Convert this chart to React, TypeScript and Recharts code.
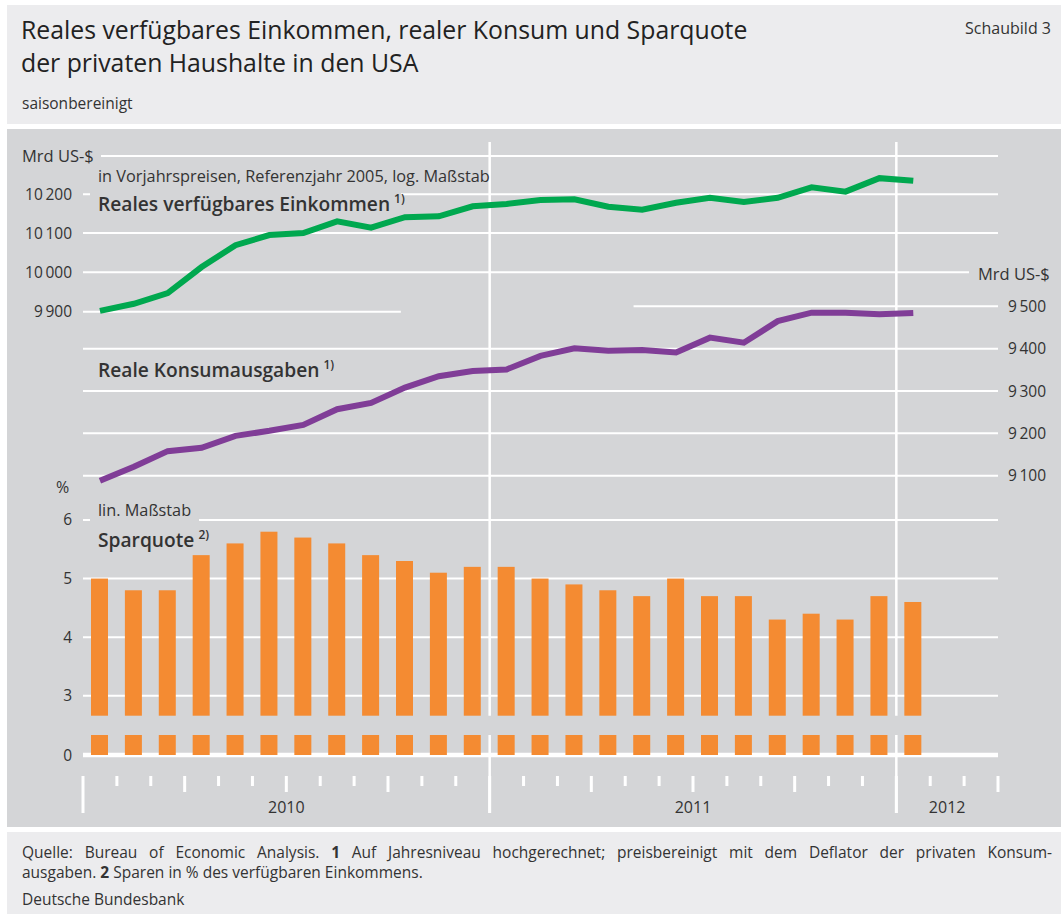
import React from 'react';
import { ComposedChart, Bar, Line, XAxis, YAxis, ReferenceLine } from 'recharts';

// Monatswerte Jan 2010 bis Jan 2012, Achse läuft bis Mär 2012
const months = [
  'Jan 2010', 'Feb 2010', 'Mär 2010', 'Apr 2010', 'Mai 2010', 'Jun 2010',
  'Jul 2010', 'Aug 2010', 'Sep 2010', 'Okt 2010', 'Nov 2010', 'Dez 2010',
  'Jan 2011', 'Feb 2011', 'Mär 2011', 'Apr 2011', 'Mai 2011', 'Jun 2011',
  'Jul 2011', 'Aug 2011', 'Sep 2011', 'Okt 2011', 'Nov 2011', 'Dez 2011',
  'Jan 2012', 'Feb 2012', 'Mär 2012',
];

// Reales verfügbares Einkommen, Mrd US-$
const income = [
  9902, 9920, 9947, 10013, 10069, 10095, 10100, 10130, 10114, 10141, 10143, 10169,
  10175, 10185, 10187, 10168, 10160, 10178, 10191, 10180, 10191, 10218, 10207, 10242,
  10235,
];

// Reale Konsumausgaben, Mrd US-$
const consumption = [
  9088, 9121, 9158, 9166, 9194, 9206, 9220, 9257, 9272, 9308, 9335, 9347,
  9351, 9383, 9401, 9395, 9397, 9391, 9426, 9414, 9465, 9485, 9485, 9481,
  9484,
];

// Sparquote in %
const savingRate = [
  5.0, 4.8, 4.8, 5.4, 5.6, 5.8, 5.7, 5.6, 5.4, 5.3, 5.1, 5.2,
  5.2, 5.0, 4.9, 4.8, 4.7, 5.0, 4.7, 4.7, 4.3, 4.4, 4.3, 4.7,
  4.6,
];

const incomeTicks = [9900, 10000, 10100, 10200, 10300];
const consumptionTicks = [9100, 9200, 9300, 9400, 9500];
const savingTicks = [0, 3, 4, 5, 6];

const data = months.map((month, i) => ({
  month,
  inc: income[i] ?? null,
  kon: consumption[i] ?? null,
  sav: savingRate[i] ?? null,
}));

// layout
const W = 1061;
const H = 914;
const PLOT_L = 83;
const PLOT_R = 998;
const PLOT_T = 142;
const PLOT_B = 755;
const XAXIS_H = 60;
const BAND = (PLOT_R - PLOT_L) / months.length;

const INC_DOMAIN = [8844.6, 10336.6];
const KON_DOMAIN = [8440.5, 9888];
const SAV_BASE = 1.9875; // hier sitzt die "0" der unterbrochenen Achse
const SAV_DOMAIN = [SAV_BASE, 12.454];
const BREAK_FROM = 2.329;
const BREAK_TO = 2.6585;

const GREEN = '#00a84f';
const PURPLE = '#803d97';
const ORANGE = '#f48b32';
const PANEL = '#d4d5d7';
const LIGHT = '#ececee';
const TEXT = '#333';
const WHITE = '#fff';

const SANS = "'Open Sans', 'Noto Sans', sans-serif";

const TICK_GAP = 21;
const TICK_MONTH = 10;
const TICK_QUARTER = 16;
const TICK_YEAR = 37;
const TICK_FONT = 15.5;

const fmt = (v: number) => (v >= 1000 ? String(v).replace(/(\d)(\d{3})$/, '$1\u2009$2') : String(v));
const savPos = (v: number) => (v === 0 ? SAV_BASE : v);

const partial = (from: number, to: number) => (p: any) => {
  const a = Math.min(p.x1, p.x2);
  const w = Math.abs(p.x2 - p.x1);
  return <line x1={a + w * from} x2={a + w * to} y1={p.y1} y2={p.y2} stroke={WHITE} strokeWidth={2} />;
};

const extendDown = (px: number) => (p: any) => (
  <line x1={p.x1} x2={p.x2} y1={Math.min(p.y1, p.y2)} y2={Math.max(p.y1, p.y2) + px} stroke={WHITE} strokeWidth={2.5} />
);

const BrokenBar = (p: any) => {
  const { x, y, width, height, fill, payload } = p;
  if (!height || payload?.sav == null) return null;
  const ppu = height / (payload.sav - SAV_BASE);
  const base = y + height;
  const lowTop = base - (BREAK_FROM - SAV_BASE) * ppu;
  const highBottom = base - (BREAK_TO - SAV_BASE) * ppu;
  return (
    <g>
      <rect x={x} y={lowTop} width={width} height={base - lowTop} fill={fill} />
      <rect x={x} y={y} width={width} height={Math.max(0, highBottom - y)} fill={fill} />
    </g>
  );
};

const MonthTick = (props: any) => {
  const { x, y, payload } = props;
  const i = months.indexOf(payload.value);
  if (i < 0) return null;
  const half = BAND / 2;
  const m = i % 12;
  const x0 = x - half;
  const len = (mm: number) => (mm === 0 ? TICK_YEAR : mm % 3 === 0 ? TICK_QUARTER : TICK_MONTH);
  const year = months[i].slice(-4);
  const first = months.findIndex((mo) => mo.endsWith(year));
  const count = months.filter((mo) => mo.endsWith(year)).length;
  return (
    <g>
      <line x1={x0} x2={x0} y1={y + TICK_GAP} y2={y + TICK_GAP + len(m)} stroke={WHITE} strokeWidth={3} />
      {i === months.length - 1 && (
        <line x1={x + half} x2={x + half} y1={y + TICK_GAP} y2={y + TICK_GAP + len((m + 1) % 12)} stroke={WHITE} strokeWidth={3} />
      )}
      {i === first && (
        <text x={x0 + count * half} y={y + 52} dy="0.36em" textAnchor="middle" fontSize={16} fill={TEXT}>
          {year}
        </text>
      )}
    </g>
  );
};

const Txt = ({ x, y, size = 16, weight = 400, bg, pl = 0, pr = 0, right, children }: any) => (
  <div
    style={{
      position: 'absolute',
      left: right ? undefined : x - pl,
      right: right ? W - x - pr : undefined,
      top: y - size,
      height: size * 2,
      lineHeight: `${size * 2}px`,
      fontSize: size,
      fontWeight: weight,
      fontFamily: SANS,
      color: TEXT,
      whiteSpace: 'nowrap',
      background: bg,
      paddingLeft: pl,
      paddingRight: pr,
    }}
  >
    {children}
  </div>
);

const Sup = ({ children }: any) => (
  <span style={{ fontSize: 12, position: 'relative', top: -8, marginLeft: 4 }}>{children}</span>
);

const yearStarts = months.filter((mo, i) => i > 0 && i % 12 === 0);

const tickLabel = (value: string, position: 'left' | 'right') => ({
  value,
  position,
  offset: position === 'left' ? 11 : 10,
  fill: TEXT,
  fontSize: TICK_FONT,
});

export default function App() {
  return (
    <div style={{ position: 'absolute', left: 0, top: 0, width: W, height: H, background: WHITE, overflow: 'hidden', fontFamily: SANS }}>
      <div style={{ position: 'absolute', left: 7, top: 5, width: W - 7, height: 119, background: LIGHT }} />
      <div style={{ position: 'absolute', left: 7, top: 129, width: W - 7, height: 698, background: PANEL }} />
      <div style={{ position: 'absolute', left: 7, top: 832, width: W - 7, height: H - 832, background: LIGHT }} />

      {/* Kopf */}
      <div style={{ position: 'absolute', left: 21, top: 13, fontSize: 24.8, lineHeight: '33px', color: '#222', whiteSpace: 'nowrap' }}>
        Reales verfügbares Einkommen, realer Konsum und Sparquote
        <br />
        der privaten Haushalte in den USA
      </div>
      <Txt x={1051} y={28} size={16} right>Schaubild 3</Txt>
      <Txt x={22} y={103} size={15.5}>saisonbereinigt</Txt>

      <div style={{ position: 'absolute', left: 0, top: 0 }}>
        <ComposedChart
          width={W}
          height={H}
          data={data}
          margin={{ top: PLOT_T, right: W - PLOT_R, bottom: H - PLOT_B - XAXIS_H, left: PLOT_L }}
        >
          <XAxis
            dataKey="month"
            height={XAXIS_H}
            axisLine={false}
            tickLine={false}
            tickSize={0}
            tickMargin={0}
            interval={0}
            tick={<MonthTick />}
          />
          <YAxis yAxisId="inc" hide type="number" scale="log" domain={INC_DOMAIN} allowDataOverflow />
          <YAxis yAxisId="kon" hide type="number" domain={KON_DOMAIN} allowDataOverflow />
          <YAxis yAxisId="sav" hide type="number" domain={SAV_DOMAIN} allowDataOverflow />

          {incomeTicks.map((v, k) => (
            <ReferenceLine
              key={'inc' + v}
              yAxisId="inc"
              y={v}
              stroke={WHITE}
              strokeWidth={2}
              ifOverflow="visible"
              zIndex={-50}
              shape={v === 9900 ? partial(0, 0.3474) : undefined}
              label={k === incomeTicks.length - 1 ? undefined : tickLabel(fmt(v), 'left')}
            />
          ))}
          {consumptionTicks.map((v, k) => (
            <ReferenceLine
              key={'kon' + v}
              yAxisId="kon"
              y={v}
              stroke={WHITE}
              strokeWidth={2}
              ifOverflow="visible"
              zIndex={-50}
              shape={k === consumptionTicks.length - 1 ? partial(0.6017, 1) : undefined}
              label={tickLabel(fmt(v), 'right')}
            />
          ))}
          {savingTicks.map((v) => (
            <ReferenceLine
              key={'sav' + v}
              yAxisId="sav"
              y={savPos(v)}
              stroke={WHITE}
              strokeWidth={v === 0 ? 4.5 : 2}
              ifOverflow="visible"
              zIndex={-50}
              label={tickLabel(String(v), 'left')}
            />
          ))}
          {yearStarts.map((mo) => (
            <ReferenceLine
              key={mo + 'a'}
              yAxisId="sav"
              segment={[{ x: mo, y: SAV_DOMAIN[1] }, { x: mo, y: BREAK_TO }]}
              position="start"
              stroke={WHITE}
              strokeWidth={2.5}
              ifOverflow="visible"
              zIndex={-50}
            />
          ))}
          {yearStarts.map((mo) => (
            <ReferenceLine
              key={mo + 'b'}
              yAxisId="sav"
              segment={[{ x: mo, y: BREAK_FROM }, { x: mo, y: SAV_BASE }]}
              position="start"
              stroke={WHITE}
              strokeWidth={2.5}
              ifOverflow="visible"
              zIndex={-50}
              shape={extendDown(TICK_GAP + TICK_YEAR)}
            />
          ))}

          <Bar yAxisId="sav" dataKey="sav" fill={ORANGE} barSize={17} shape={<BrokenBar />} isAnimationActive={false} />
          <Line yAxisId="inc" dataKey="inc" stroke={GREEN} strokeWidth={6} dot={false} activeDot={false} isAnimationActive={false} />
          <Line yAxisId="kon" dataKey="kon" stroke={PURPLE} strokeWidth={6} dot={false} activeDot={false} isAnimationActive={false} />
        </ComposedChart>
      </div>

      {/* Beschriftungen im Diagramm */}
      <Txt x={22} y={155} size={16.5} bg={PANEL} pr={7}>Mrd US-$</Txt>
      <Txt x={98} y={176} size={16.3}>in Vorjahrspreisen, Referenzjahr 2005, log. Maßstab</Txt>
      <div style={{ position: 'absolute', left: 89.5, top: 187, width: 311, height: 27, background: PANEL }} />
      <Txt x={98} y={204} size={19.2} weight={600}>
        Reales verfügbares Einkommen<Sup>1)</Sup>
      </Txt>
      <Txt x={978} y={273} size={16.5} bg={PANEL} pl={9}>Mrd US-$</Txt>
      <Txt x={98} y={370} size={19.2} weight={600}>
        Reale Konsumausgaben<Sup>1)</Sup>
      </Txt>
      <Txt x={56} y={487} size={16}>%</Txt>
      <Txt x={98} y={510} size={16.3} bg={PANEL} pl={8.5} pr={8}>lin. Maßstab</Txt>
      <Txt x={98} y={540} size={19.2} weight={600}>
        Sparquote<Sup>2)</Sup>
      </Txt>

      {/* Fuß */}
      <div style={{ position: 'absolute', left: 22, width: 1030, top: 842, fontSize: 15.5, lineHeight: '20px', color: TEXT }}>
        <div style={{ textAlign: 'justify', textAlignLast: 'justify' as any, whiteSpace: 'nowrap' }}>
          Quelle: Bureau of Economic Analysis. <b>1</b> Auf Jahresniveau hochgerechnet; preisbereinigt mit dem Deflator der privaten Konsum-
        </div>
        <div>
          ausgaben. <b>2</b> Sparen in % des verfügbaren Einkommens.
        </div>
        <div style={{ marginTop: 7 }}>Deutsche Bundesbank</div>
      </div>
    </div>
  );
}
